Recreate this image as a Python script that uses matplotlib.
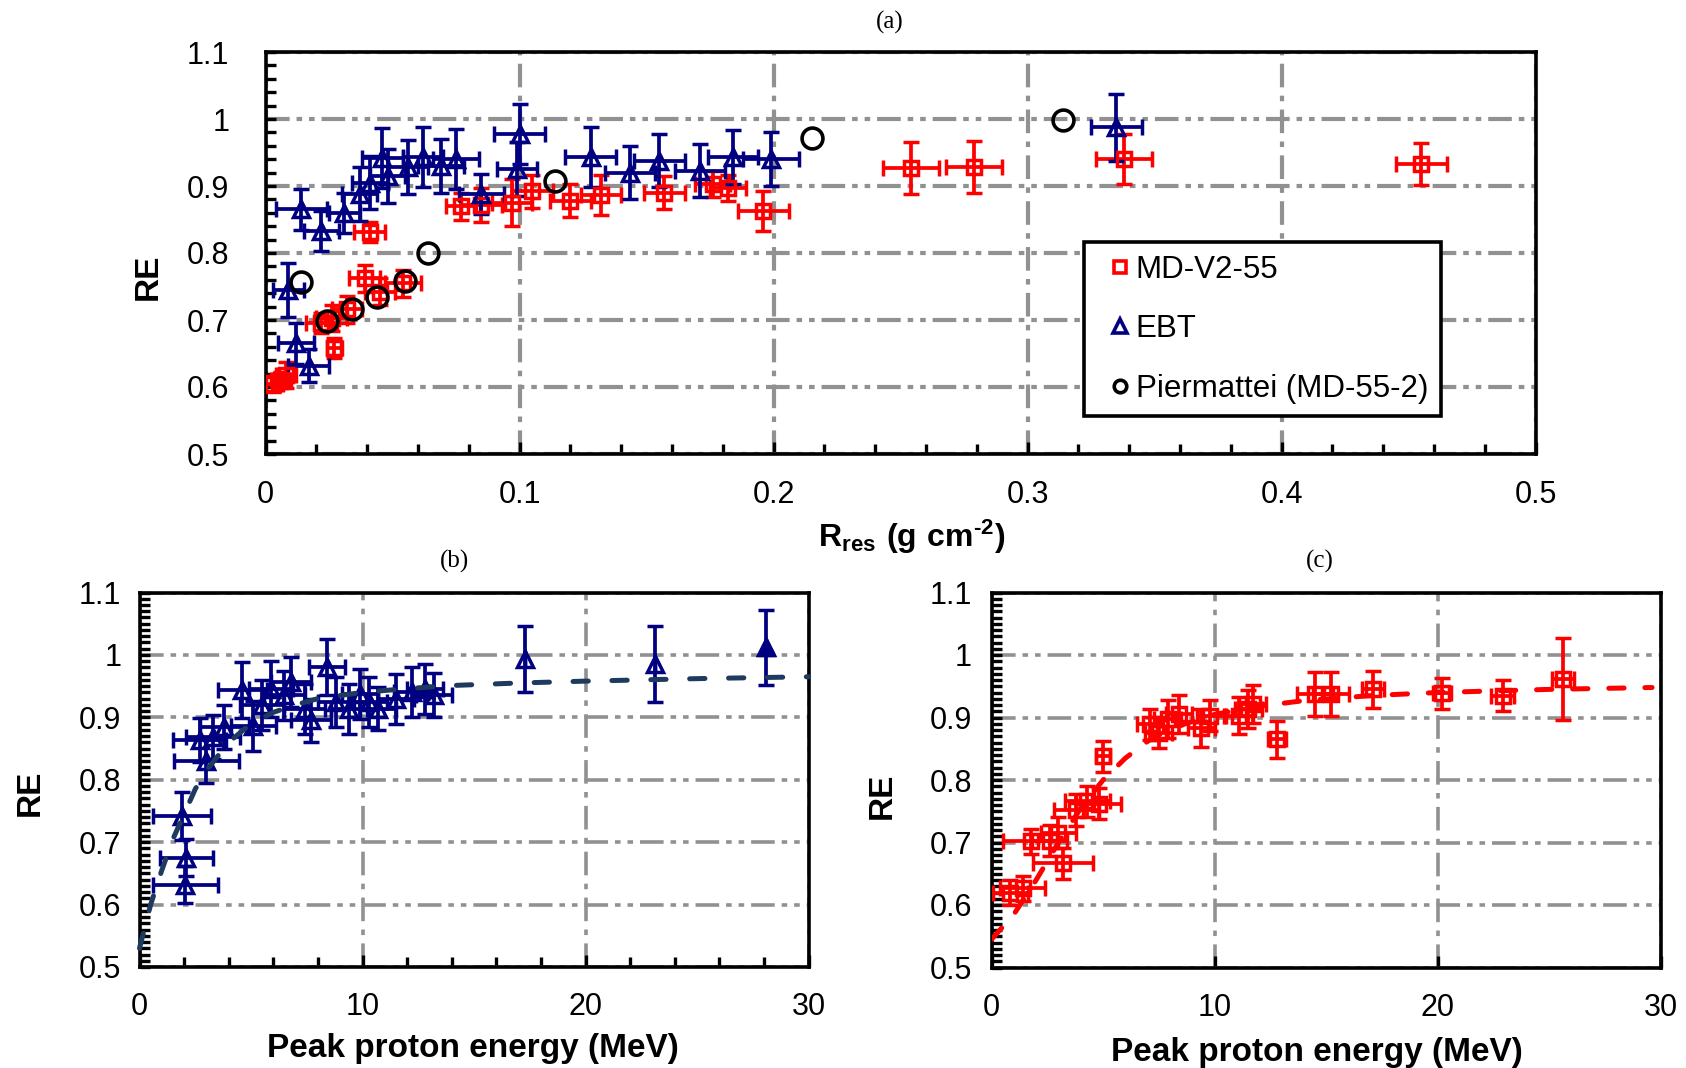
import matplotlib

matplotlib.use("Agg")
import matplotlib.pyplot as plt
from matplotlib.lines import Line2D
from matplotlib.ticker import FuncFormatter, MultipleLocator

plt.rcParams["font.family"] = ["Liberation Sans", "DejaVu Sans"]
plt.rcParams["mathtext.fontset"] = "custom"
plt.rcParams["mathtext.rm"] = "Liberation Sans"
plt.rcParams["mathtext.bf"] = "Liberation Sans:bold"
plt.rcParams["lines.scale_dashes"] = False

# (a) RE against residual range R_res (g cm^-2)
md_r = [0.003, 0.006, 0.008, 0.027, 0.022, 0.026, 0.032, 0.039, 0.045, 0.054, 0.041,
        0.077, 0.085, 0.097, 0.105, 0.120, 0.132, 0.157, 0.176, 0.182, 0.196,
        0.254, 0.279, 0.338, 0.455]
md_re = [0.605, 0.610, 0.618, 0.658, 0.695, 0.703, 0.716, 0.762, 0.742, 0.755, 0.832,
         0.870, 0.872, 0.875, 0.892, 0.878, 0.886, 0.890, 0.903, 0.897, 0.863,
         0.927, 0.928, 0.940, 0.933]
md_r_err = [0.004, 0.004, 0.004, 0.003, 0.006, 0.006, 0.006, 0.006, 0.006, 0.007, 0.006,
            0.006, 0.008, 0.008, 0.008, 0.008, 0.008, 0.008, 0.007, 0.007, 0.010,
            0.011, 0.011, 0.011, 0.010]
md_re_err = [0.012, 0.012, 0.020, 0.015, 0.015, 0.020, 0.020, 0.020, 0.020, 0.020, 0.015,
             0.020, 0.025, 0.035, 0.025, 0.025, 0.030, 0.025, 0.020, 0.020, 0.030,
             0.039, 0.039, 0.037, 0.031]

ebt_r = [0.009, 0.012, 0.017, 0.014, 0.022, 0.031, 0.037, 0.041, 0.046, 0.048, 0.056,
         0.062, 0.069, 0.075, 0.085, 0.100, 0.099, 0.128, 0.1435, 0.155, 0.171,
         0.184, 0.199, 0.335]
ebt_re = [0.745, 0.665, 0.632, 0.865, 0.833, 0.860, 0.888, 0.905, 0.942, 0.915, 0.928,
          0.943, 0.930, 0.940, 0.888, 0.978, 0.925, 0.943, 0.920, 0.938, 0.923,
          0.943, 0.940, 0.988]
ebt_r_err = [0.006, 0.007, 0.008, 0.010, 0.007, 0.006, 0.007, 0.007, 0.008, 0.007, 0.008,
             0.008, 0.009, 0.009, 0.009, 0.010, 0.008, 0.010, 0.010, 0.010, 0.010,
             0.010, 0.011, 0.010]
ebt_re_err = [0.040, 0.030, 0.025, 0.030, 0.030, 0.030, 0.040, 0.040, 0.045, 0.040, 0.040,
              0.045, 0.040, 0.045, 0.030, 0.045, 0.040, 0.045, 0.040, 0.040, 0.040,
              0.040, 0.040, 0.050]

pier_r = [0.014, 0.024, 0.034, 0.044, 0.055, 0.064, 0.114, 0.215, 0.314]
pier_re = [0.757, 0.698, 0.717, 0.735, 0.758, 0.800, 0.908, 0.972, 0.999]

# (b) EBT against peak proton energy (MeV)
ebt_e = [1.9, 2.1, 2.05, 3.0, 2.7, 3.3, 3.8, 4.6, 5.1, 5.5, 5.9, 6.5, 6.8, 7.4, 7.7,
         8.4, 8.8, 9.4, 9.9, 10.3, 10.7, 11.5, 12.2, 12.8, 13.2, 17.3, 23.1, 28.1]
ebt_e_re = [0.742, 0.675, 0.632, 0.830, 0.864, 0.868, 0.885, 0.944, 0.886, 0.920, 0.946,
            0.935, 0.957, 0.914, 0.895, 0.980, 0.925, 0.914, 0.938, 0.925, 0.914,
            0.930, 0.941, 0.946, 0.936, 0.993, 0.985, 1.012]
ebt_e_err = [1.3, 1.2, 1.45, 1.45, 1.2, 1.2, 1.1, 1.1, 1.0, 1.0, 1.0, 0.9, 0.9, 0.9, 0.9,
             0.8, 0.8, 0.8, 0.8, 0.8, 0.8, 0.8, 0.8, 0.8, 0.8, 0.0, 0.0, 0.0]
ebt_e_re_err = [0.038, 0.030, 0.030, 0.035, 0.035, 0.035, 0.035, 0.045, 0.040, 0.040, 0.045,
                0.040, 0.040, 0.040, 0.035, 0.045, 0.040, 0.040, 0.040, 0.040, 0.035,
                0.040, 0.040, 0.040, 0.035, 0.053, 0.061, 0.060]
fit_b_e = [0, 0.5, 1, 1.5, 2, 2.5, 3, 4, 5, 6, 7, 8, 10, 12, 14, 17, 20, 25, 30]
fit_b_re = [0.53, 0.60, 0.655, 0.705, 0.745, 0.785, 0.815, 0.86, 0.89, 0.908, 0.92,
            0.93, 0.94, 0.946, 0.951, 0.955, 0.958, 0.962, 0.965]

# (c) MD-V2-55 against peak proton energy (MeV)
md_e = [0.85, 1.4, 1.75, 2.6, 3.2, 3.0, 3.8, 4.3, 4.8, 5.0, 7.1, 7.5, 7.9, 8.4, 9.4,
        9.8, 11.1, 11.5, 11.7, 12.8, 14.5, 15.2, 17.1, 20.2, 22.9, 25.6]
md_e_re = [0.620, 0.627, 0.702, 0.703, 0.667, 0.716, 0.752, 0.766, 0.762, 0.838, 0.889,
           0.876, 0.898, 0.906, 0.883, 0.903, 0.903, 0.914, 0.922, 0.865, 0.938,
           0.938, 0.945, 0.939, 0.935, 0.962]
md_e_err = [0.8, 1.0, 1.25, 0.8, 1.35, 0.8, 1.0, 1.0, 1.0, 0.3, 0.6, 0.6, 0.6, 0.6, 0.6,
            0.6, 0.6, 0.6, 0.6, 0.4, 0.8, 0.8, 0.5, 0.4, 0.5, 0.5]
md_e_re_err = [0.020, 0.020, 0.020, 0.025, 0.025, 0.025, 0.025, 0.025, 0.025, 0.025, 0.025,
               0.025, 0.030, 0.030, 0.030, 0.025, 0.030, 0.030, 0.030, 0.030, 0.035,
               0.035, 0.030, 0.025, 0.025, 0.066]
fit_c_e = [0, 0.5, 1, 2, 3, 4, 5, 6, 7, 8, 10, 12, 14, 17, 20, 25, 29.6]
fit_c_re = [0.545, 0.565, 0.585, 0.64, 0.70, 0.755, 0.80, 0.835, 0.862, 0.882, 0.905,
            0.918, 0.927, 0.935, 0.94, 0.945, 0.948]

RED = "#ff0000"
NAVY = "#000080"
GRID = "#919191"
FIT_B = "#1f3a5f"
HDOT = (0, (17, 5, 4, 5, 4, 5))
VDOT = (0, (17, 6, 4, 6))


def style_axes(ax, xmax, xmajor, xminor, yminor, ypad, xpad, grid_lw):
    ax.set_xlim(0, xmax)
    ax.set_ylim(0.5, 1.1)
    ax.xaxis.set_major_locator(MultipleLocator(xmajor))
    if xminor:
        ax.xaxis.set_minor_locator(MultipleLocator(xminor))
    ax.yaxis.set_major_locator(MultipleLocator(0.1))
    ax.yaxis.set_minor_locator(MultipleLocator(yminor))
    fmt = FuncFormatter(lambda v, p: f"{v:g}")
    ax.xaxis.set_major_formatter(fmt)
    ax.yaxis.set_major_formatter(fmt)
    ax.tick_params(which="both", direction="in", top=False, right=False,
                   width=2.4, labelsize=22)
    ax.tick_params(which="major", length=9)
    ax.tick_params(which="minor", length=7)
    ax.tick_params(axis="y", which="major", length=7, pad=ypad)
    ax.tick_params(axis="x", pad=xpad)
    for s in ax.spines.values():
        s.set_linewidth(2.6)
    ax.grid(axis="y", color=GRID, lw=grid_lw, linestyle=HDOT)
    ax.grid(axis="x", color=GRID, lw=grid_lw, linestyle=VDOT)
    ax.set_axisbelow(True)


def err(ax, x, y, xe, ye, marker, color, ms=10.5):
    ax.errorbar(x, y, xerr=xe, yerr=ye, fmt=marker, ms=ms, mfc="none", mec=color,
                mew=2.5, ecolor=color, elinewidth=2.7, capsize=5.5, capthick=2.7,
                zorder=3)


W, H = 1686, 1068
fig = plt.figure(figsize=(W / 100, H / 100), dpi=100)

ax_a = fig.add_axes([265.6 / W, 1 - 454 / H, (1535.5 - 265.6) / W, (454 - 52) / H])
ax_b = fig.add_axes([139.5 / W, 1 - 967 / H, (808.6 - 139.5) / W, (967 - 592.5) / H])
ax_c = fig.add_axes([991.5 / W, 1 - 967.5 / H, (1661 - 991.5) / W, (967.5 - 592.5) / H])

style_axes(ax_a, 0.5, 0.1, 0.02, 0.02, 26, 19, 3.0)
style_axes(ax_b, 30, 10, 2, 0.01, 13, 18, 2.6)
style_axes(ax_c, 30, 10, None, 0.01, 14, 18, 2.6)

err(ax_a, md_r, md_re, md_r_err, md_re_err, "s", RED)
err(ax_a, ebt_r, ebt_re, ebt_r_err, ebt_re_err, "^", NAVY, ms=12)
ax_a.plot(pier_r, pier_re, "o", ms=15, mfc="none", mec="black", mew=2.6, zorder=4)

handles = [
    Line2D([], [], marker="s", ls="none", ms=9, mfc="none", mec=RED, mew=2.6),
    Line2D([], [], marker="^", ls="none", ms=10, mfc="none", mec=NAVY, mew=2.6),
    Line2D([], [], marker="o", ls="none", ms=9, mfc="none", mec="black", mew=2.6),
]
leg = ax_a.legend(handles, ["MD-V2-55", "EBT", "Piermattei (MD-55-2)"],
                  loc="upper left", bbox_to_anchor=(1084 / W, 1 - 242 / H),
                  bbox_transform=fig.transFigure, borderaxespad=0, fontsize=22.5,
                  frameon=True, fancybox=False, framealpha=1, edgecolor="black",
                  borderpad=0.4, handlelength=1.5, handletextpad=-0.25,
                  labelspacing=0.95)
leg.get_frame().set_linewidth(2.6)

err(ax_b, ebt_e, ebt_e_re, ebt_e_err, ebt_e_re_err, "^", NAVY, ms=12)
ax_b.plot(ebt_e[-1:], ebt_e_re[-1:], "^", ms=13, color=NAVY, zorder=4)
ax_b.plot(fit_b_e, fit_b_re, color=FIT_B, lw=3.6, dashes=(11, 17),
          dash_capstyle="round", zorder=5, clip_on=False)

err(ax_c, md_e, md_e_re, md_e_err, md_e_re_err, "s", RED)
ax_c.plot(fit_c_e, fit_c_re, color=RED, lw=3.6, dashes=(11, 15),
          dash_capstyle="round", zorder=5)

serif = {"family": ["Liberation Serif", "DejaVu Serif"], "fontsize": 18}
fig.text(890 / W, 1 - 22 / H, "(a)", ha="center", va="center", **serif)
fig.text(454 / W, 1 - 561 / H, "(b)", ha="center", va="center", **serif)
fig.text(1320 / W, 1 - 561 / H, "(c)", ha="center", va="center", **serif)

lab = {"fontsize": 24, "fontweight": "bold", "ha": "center", "va": "center"}
fig.text(148 / W, 1 - 277 / H, "RE", rotation=90, **lab)
fig.text(30 / W, 1 - 793 / H, "RE", rotation=90, **lab)
fig.text(882 / W, 1 - 796 / H, "RE", rotation=90, **lab)
fig.text(912 / W, 1 - 537 / H, "$\\mathbf{R_{res}\\ (g\\ cm^{\u2010 2})}$",
         **{**lab, "fontsize": 23})
fig.text(473 / W, 1 - 1049 / H, "Peak proton energy (MeV)", **lab)
fig.text(1317 / W, 1 - 1052 / H, "Peak proton energy (MeV)", **lab)

fig.savefig("out.png", dpi=100)
